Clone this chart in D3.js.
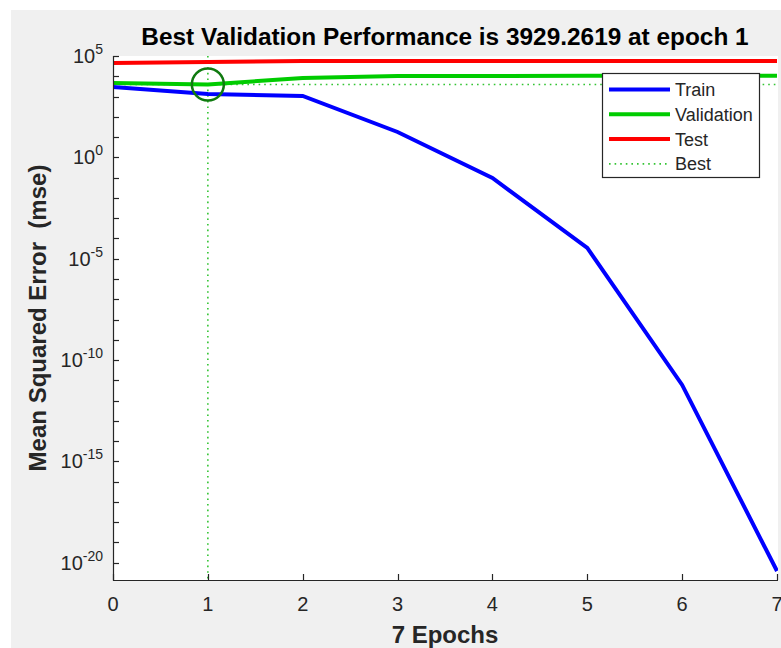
<!DOCTYPE html>
<html>
<head>
<meta charset="utf-8">
<script src="https://cdn.jsdelivr.net/npm/d3@7"></script>
<style>
  html, body { margin: 0; padding: 0; background: #ffffff; }
  svg { display: block; font-family: "Liberation Sans", Arial, Helvetica, sans-serif; }
</style>
</head>
<body>
<svg id="chart" width="781" height="648"></svg>
<script>
// Training record: mean squared error per epoch
const epochs = [0, 1, 2, 3, 4, 5, 6, 7];
const trainPerf = [2950, 1330, 1070, 17.8, 0.096, 3.4e-5, 5.9e-12, 3.9e-21];
const valPerf = [4650, 3929.2619, 8200, 10300, 10400, 10500, 10600, 10700];
const testPerf = [45000, 50500, 56000, 56500, 57000, 57000, 57000, 57000];
const bestEpoch = 1;
const bestPerf = 3929.2619;

const xTickValues = [0, 1, 2, 3, 4, 5, 6, 7];
const yMajorExponents = [5, 0, -5, -10, -15, -20];
const seriesNames = ["Train", "Validation", "Test", "Best"];

const colors = { train: "#0000ff", val: "#00cc00", test: "#ff0000", best: "#33c433", circle: "#107a10" };
const ink = "#262626";

const svg = d3.select("#chart");

// figure background
svg.append("rect").attr("x", 11).attr("y", 10).attr("width", 770).attr("height", 638).attr("fill", "#f0f0f0");

const plot = { left: 113, right: 777, top: 56, bottom: 580 };
const pxPerDecade = 20.27;
const yMinExp = 5 - (plot.bottom - plot.top) / pxPerDecade;

const x = d3.scaleLinear().domain([0, 7]).range([plot.left, plot.right]);
const y = d3.scaleLog().domain([Math.pow(10, yMinExp), 1e5]).range([plot.bottom, plot.top]);

// plot area
svg.append("rect").attr("x", plot.left).attr("y", plot.top)
  .attr("width", plot.right + 1 - plot.left).attr("height", plot.bottom - plot.top).attr("fill", "#ffffff");

svg.append("clipPath").attr("id", "clip").append("rect")
  .attr("x", plot.left).attr("y", plot.top - 1)
  .attr("width", plot.right + 1 - plot.left).attr("height", plot.bottom - plot.top + 1);

const g = svg.append("g").attr("clip-path", "url(#clip)");

// best epoch guides
g.append("line").attr("x1", x(bestEpoch)).attr("x2", x(bestEpoch))
  .attr("y1", plot.top).attr("y2", plot.bottom)
  .attr("stroke", colors.best).attr("stroke-width", 1.6).attr("stroke-dasharray", "1.6,4");
g.append("line").attr("x1", plot.left).attr("x2", plot.right)
  .attr("y1", y(bestPerf)).attr("y2", y(bestPerf))
  .attr("stroke", colors.best).attr("stroke-width", 1.6).attr("stroke-dasharray", "1.6,4");

const line = (vals) => d3.line().x((d, i) => x(epochs[i])).y(d => y(d))(vals);

g.append("path").attr("d", line(testPerf)).attr("fill", "none")
  .attr("stroke", colors.test).attr("stroke-width", 4);
g.append("path").attr("d", line(valPerf)).attr("fill", "none")
  .attr("stroke", colors.val).attr("stroke-width", 4);
g.append("path").attr("d", line(trainPerf)).attr("fill", "none")
  .attr("stroke", colors.train).attr("stroke-width", 4);

// best point marker
svg.append("circle").attr("cx", x(bestEpoch)).attr("cy", y(bestPerf)).attr("r", 16)
  .attr("fill", "none").attr("stroke", colors.circle).attr("stroke-width", 2.5);

// x axis
const xAxis = svg.append("g");
xAxis.append("line").attr("x1", plot.left).attr("x2", plot.right + 1)
  .attr("y1", plot.bottom + 0.5).attr("y2", plot.bottom + 0.5).attr("stroke", ink).attr("stroke-width", 1.2);
xTickValues.forEach(v => {
  const px = Math.round(x(v)) + 0.5;
  xAxis.append("line").attr("x1", px).attr("x2", px).attr("y1", plot.bottom).attr("y2", plot.bottom - 6)
    .attr("stroke", ink).attr("stroke-width", 1.2);
  xAxis.append("text").attr("x", x(v)).attr("y", 611).attr("text-anchor", "middle")
    .attr("font-size", 20).attr("fill", ink).text(v);
});

// y axis with a minor tick at every decade
const yAxis = svg.append("g");
yAxis.append("line").attr("x1", plot.left + 0.5).attr("x2", plot.left + 0.5)
  .attr("y1", plot.top).attr("y2", plot.bottom + 1).attr("stroke", ink).attr("stroke-width", 1.2);
for (let e = 5; e >= Math.ceil(yMinExp); e--) {
  const py = Math.round(y(Math.pow(10, e))) + 0.5;
  yAxis.append("line").attr("x1", plot.left).attr("x2", plot.left + 6).attr("y1", py).attr("y2", py)
    .attr("stroke", ink).attr("stroke-width", 1.2);
}
yMajorExponents.forEach(e => {
  const py = y(Math.pow(10, e));
  const t = yAxis.append("text").attr("x", 103).attr("y", py + 7).attr("text-anchor", "end")
    .attr("font-size", 20).attr("fill", ink);
  t.append("tspan").text("10");
  t.append("tspan").attr("dy", -9).attr("font-size", 14).text(String(e));
});

// titles
svg.append("text").attr("x", 445).attr("y", 45).attr("text-anchor", "middle")
  .attr("font-size", 24.4).attr("font-weight", "bold").attr("fill", "#000000")
  .text("Best Validation Performance is " + bestPerf.toFixed(4) + " at epoch " + bestEpoch);
svg.append("text").attr("x", 445).attr("y", 643).attr("text-anchor", "middle")
  .attr("font-size", 24).attr("font-weight", "bold").attr("fill", ink)
  .text((epochs.length - 1) + " Epochs");
svg.append("text").attr("transform", "translate(46,318) rotate(-90)").attr("text-anchor", "middle")
  .attr("font-size", 24).attr("font-weight", "bold").attr("fill", ink)
  .attr("xml:space", "preserve").text("Mean Squared Error  (mse)");

// legend
const legend = svg.append("g");
legend.append("rect").attr("x", 602.5).attr("y", 73.5).attr("width", 157).attr("height", 104)
  .attr("fill", "#ffffff").attr("stroke", ink).attr("stroke-width", 1.2);
const legendStyles = [
  { c: colors.train, w: 4, dash: null },
  { c: colors.val, w: 4, dash: null },
  { c: colors.test, w: 4, dash: null },
  { c: colors.best, w: 1.6, dash: "1.6,4" }
];
seriesNames.forEach((name, i) => {
  const ly = 89.5 + i * 24.8;
  const l = legend.append("line").attr("x1", 609).attr("x2", 670).attr("y1", ly).attr("y2", ly)
    .attr("stroke", legendStyles[i].c).attr("stroke-width", legendStyles[i].w);
  if (legendStyles[i].dash) l.attr("stroke-dasharray", legendStyles[i].dash);
  legend.append("text").attr("x", 675).attr("y", ly + 6.5).attr("font-size", 18).attr("fill", ink).text(name);
});
</script>
</body>
</html>
